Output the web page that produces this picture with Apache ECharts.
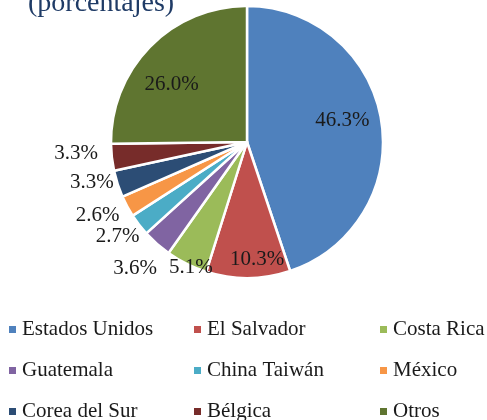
<!DOCTYPE html>
<html>
<head>
<meta charset="utf-8">
<script src="https://cdn.jsdelivr.net/npm/echarts@6/dist/echarts.min.js"></script>
<style>
html,body{margin:0;padding:0;background:#fff;}
#chart{width:487px;height:420px;}
</style>
</head>
<body>
<div id="chart"></div>
<script>
// datos (porcentajes)
var paises = ['Estados Unidos','El Salvador','Costa Rica','Guatemala','China Taiwán','México','Corea del Sur','Bélgica','Otros'];
var valores = [46.3, 10.3, 5.1, 3.6, 2.7, 2.6, 3.3, 3.3, 26.0];
var colores = ['#4F81BD','#C0504D','#9BBB59','#8064A2','#4BACC6','#F79646','#2C4D75','#772C2A','#5F7530'];
// columnas de la leyenda
var leyCol1 = ['Estados Unidos','Guatemala','Corea del Sur'];
var leyCol2 = ['El Salvador','China Taiwán','Bélgica'];
var leyCol3 = ['Costa Rica','México','Otros'];

// ajuste de etiquetas (largo de linea, invisible)
var etiqLen  = [-5, -19, 4.5, 33, 19, 19, -5, -38, -54];
var etiqLen2 = [-61, -18, -28, -22, -15.5, -9, 8.6, 51.6, -10];

var fuente = 'Liberation Serif';

var pieData = [];
for(var i=0;i<paises.length;i++){
	pieData.push({
		name: paises[i],
		value: valores[i],
		itemStyle: {color: colores[i]},
		labelLine: {show:false, length: etiqLen[i], length2: etiqLen2[i]}
	});
}

function leyenda(d, x){
	return {
		data: d,
		orient: 'vertical',
		left: x,
		top: 319,
		height: 140,
		padding: 0,
		itemGap: 20,
		itemWidth: 7,
		itemHeight: 7,
		icon: 'rect',
		itemStyle: {borderWidth: 0},
		selectedMode: false,
		textStyle: {fontFamily: fuente, fontSize: 21, lineHeight: 20, color: '#1a1a1a', padding: [0,0,0,1]}
	};
}

var myChart = echarts.init(document.getElementById('chart'), null, {renderer:'canvas'});
myChart.setOption({
	animation: false,
	title: {
		text: '(porcentajes)',
		left: 28,
		top: -10,
		padding: 0,
		textStyle: {fontFamily: fuente, fontSize: 28, fontWeight: 'normal', color: '#1F3B66'}
	},
	legend: [leyenda(leyCol1, 9), leyenda(leyCol2, 194), leyenda(leyCol3, 380)],
	series: [{
		type: 'pie',
		center: [247, 142],
		radius: [0, 136],
		startAngle: 90,
		clockwise: true,
		avoidLabelOverlap: false,
		itemStyle: {borderColor: '#fff', borderWidth: 2.5},
		label: {
			show: true,
			position: 'outside',
			distanceToLabelLine: 0,
			fontFamily: fuente,
			fontSize: 21,
			color: '#1a1a1a',
			formatter: function(p){ return p.value.toFixed(1) + '%'; }
		},
		data: pieData
	}]
});
</script>
</body>
</html>
